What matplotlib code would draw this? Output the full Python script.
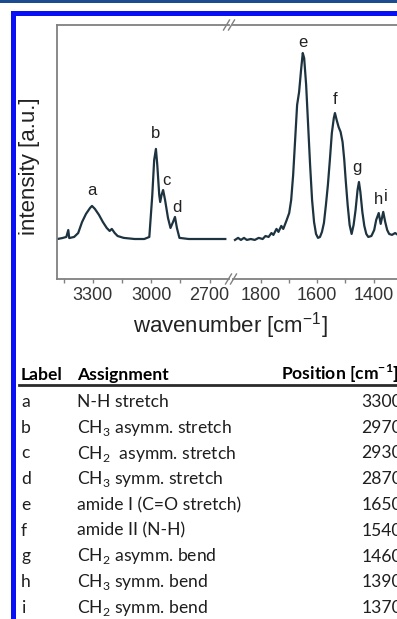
import matplotlib
matplotlib.use("Agg")
import matplotlib.pyplot as plt
from matplotlib.lines import Line2D
from matplotlib.patches import Rectangle
from matplotlib.ticker import FixedLocator

# spectrum, high wavenumber part (cm-1, intensity normalised to amide I)
left_wn = [3483, 3458, 3437, 3427, 3422, 3397, 3376, 3356, 3336, 3315, 3305,
           3290, 3269, 3249, 3229, 3214, 3203, 3188, 3173, 3142, 3086, 3036,
           3010, 2995, 2985, 2976, 2969, 2959, 2954, 2947, 2939, 2929, 2914,
           2901, 2888, 2878, 2868, 2855, 2807, 2705, 2619]
left_int = [0.005, 0.010, 0.016, 0.053, 0.010, 0.016, 0.037, 0.096, 0.139, 0.171, 0.182,
            0.166, 0.134, 0.096, 0.064, 0.048, 0.059, 0.037, 0.021, 0.011, 0.005, 0.005,
            0.016, 0.235, 0.428, 0.487, 0.401, 0.241, 0.203, 0.241, 0.267, 0.214, 0.118,
            0.064, 0.096, 0.123, 0.064, 0.011, 0.005, 0.005, 0.005]

# spectrum, fingerprint part
right_wn = [1891, 1880, 1870, 1859, 1849, 1835, 1821, 1807, 1793, 1783, 1772,
            1762, 1755, 1744, 1737, 1727, 1720, 1709, 1699, 1692, 1685, 1678,
            1671, 1664, 1657, 1651, 1646, 1639, 1632, 1625, 1618, 1611, 1604,
            1597, 1590, 1583, 1576, 1569, 1562, 1555, 1548, 1541, 1537, 1531,
            1524, 1517, 1510, 1504, 1499, 1492, 1485, 1478, 1471, 1464, 1457,
            1452, 1447, 1440, 1433, 1426, 1419, 1408, 1398, 1391, 1382, 1375,
            1366, 1359, 1352, 1345, 1335, 1324, 1314, 1300]
right_int = [0.000, 0.011, 0.000, 0.011, 0.000, 0.005, 0.000, 0.011, 0.005, 0.021, 0.016,
             0.037, 0.027, 0.059, 0.043, 0.075, 0.059, 0.102, 0.144, 0.214, 0.348, 0.535,
             0.722, 0.791, 0.909, 1.000, 0.973, 0.829, 0.615, 0.401, 0.214, 0.096, 0.032,
             0.011, 0.016, 0.043, 0.091, 0.187, 0.294, 0.428, 0.572, 0.652, 0.679, 0.642,
             0.604, 0.578, 0.524, 0.428, 0.321, 0.187, 0.080, 0.032, 0.080, 0.160, 0.267,
             0.310, 0.257, 0.150, 0.075, 0.032, 0.016, 0.021, 0.053, 0.107, 0.144, 0.086,
             0.150, 0.096, 0.053, 0.032, 0.027, 0.037, 0.027, 0.021]

# peak letters and where they sit
peak_labels = ["a", "b", "c", "d", "e", "f", "g", "h", "i"]
peak_wn = [3305, 2980, 2924, 2868, 1650, 1538, 1458, 1384, 1358]
peak_y = [0.262, 0.567, 0.316, 0.176, 1.059, 0.754, 0.385, 0.214, 0.235]

# assignment table
tab_labels = ["a", "b", "c", "d", "e", "f", "g", "h", "i"]
tab_assign = ["N-H stretch", "CH$_3$ asymm. stretch", "CH$_2$  asymm. stretch",
              "CH$_3$ symm. stretch", "amide I (C=O stretch)", "amide II (N-H)",
              "CH$_2$ asymm. bend", "CH$_3$ symm. bend", "CH$_2$ symm. bend"]
tab_pos = [3300, 2970, 2930, 2870, 1650, 1540, 1460, 1390, 1370]

W, H = 397, 619
plt.rcParams["font.family"] = "Liberation Sans"
plt.rcParams["mathtext.fontset"] = "custom"
plt.rcParams["mathtext.rm"] = "Lato"
plt.rcParams["mathtext.bf"] = "Lato:bold"
plt.rcParams["mathtext.sf"] = "Liberation Sans"


def fx(x):
    return x / W


def fy(y):
    return 1 - y / H


fig = plt.figure(figsize=(W / 100, H / 100), dpi=100)

# page decoration: dark strip and blue frame
fig.add_artist(Rectangle((0, fy(2.5)), 1, 2.5 / H, transform=fig.transFigure,
                         color="#1d4b8f", lw=0))
fig.add_artist(Rectangle((fx(11), 0), 5 / W, fy(11), transform=fig.transFigure,
                         color="#0a10f5", lw=0))
fig.add_artist(Rectangle((fx(11), fy(16)), 1, 5 / H, transform=fig.transFigure,
                         color="#0a10f5", lw=0))

ax_top, ax_bot = 25, 279
ax1 = fig.add_axes([fx(57), fy(ax_bot), (229 - 57) / W, (ax_bot - ax_top) / H])
ax2 = fig.add_axes([fx(233), fy(ax_bot), (416 - 233) / W, (ax_bot - ax_top) / H])

line_col = "#1d3340"
spine_col = "#808080"
ylim = (-0.209, 1.15)

ax1.plot(left_wn, left_int, color=line_col, lw=1.6)
ax2.plot(right_wn, right_int, color=line_col, lw=1.6)
ax1.set_xlim(3485, 2600)
ax2.set_xlim(1898, 1250)

for ax in (ax1, ax2):
    ax.set_ylim(*ylim)
    ax.set_yticks([])
    ax.patch.set_alpha(0)
    for s in ax.spines.values():
        s.set_color(spine_col)
        s.set_linewidth(1.3)
    ax.tick_params(axis="x", which="both", direction="out", color=spine_col,
                   labelsize=13, labelcolor="#333333", pad=3)
    ax.tick_params(axis="x", which="major", length=3, width=1)
    ax.tick_params(axis="x", which="minor", length=3, width=1)

ax1.spines["right"].set_visible(False)
ax2.spines["left"].set_visible(False)
ax1.set_xticks([3300, 3000, 2700])
ax1.xaxis.set_minor_locator(FixedLocator([3450, 3150, 2850]))
ax2.set_xticks([1800, 1600, 1400])
ax2.xaxis.set_minor_locator(FixedLocator([1700, 1500, 1300]))

for lab, x, y in zip(peak_labels, peak_wn, peak_y):
    ax = ax1 if x > 2000 else ax2
    ax.text(x, y, lab, ha="center", va="center", fontsize=12, color="#222222")

# axis break marks
for cx, cy in [(229, 25), (231, 279)]:
    for off in (-2.5, 2.5):
        fig.add_artist(Line2D([fx(cx + off - 3), fx(cx + off + 3)],
                              [fy(cy + 5), fy(cy - 5)],
                              transform=fig.transFigure, color=spine_col, lw=1))

fig.text(fx(230), fy(326), r"wavenumber [cm$^{\mathsf{-1}}$]", ha="center", va="center",
         fontsize=16, color="#222222")
fig.text(fx(30), fy(166), "intensity [a.u.]", ha="center", va="center",
         rotation=90, fontsize=16, color="#222222")

# table
tfont = "Lato"
tsize = 12.6
hdr_base = 380
fig.text(fx(21), fy(hdr_base), "Label", family=tfont, weight="bold", fontsize=tsize,
         color="black", va="baseline")
fig.text(fx(77), fy(hdr_base), "Assignment", family=tfont, weight="bold", fontsize=tsize,
         color="black", va="baseline")
fig.text(fx(399), fy(hdr_base), r"Position [cm$^{\mathbf{-1}}$]", family=tfont,
         weight="bold", fontsize=tsize, color="black", va="baseline", ha="right")
fig.add_artist(Line2D([fx(19), 1.0], [fy(385), fy(385)], transform=fig.transFigure,
                      color="#2a2a2a", lw=2))

row_base0, row_step = 407, 25.75
for i, (lab, asg, pos) in enumerate(zip(tab_labels, tab_assign, tab_pos)):
    yb = fy(row_base0 + i * row_step)
    fig.text(fx(21), yb, lab, family=tfont, fontsize=tsize, color="#1e1e1e", va="baseline")
    fig.text(fx(77), yb, asg, family=tfont, fontsize=tsize, color="#1e1e1e", va="baseline")
    fig.text(fx(402), yb, str(pos), family=tfont, fontsize=tsize, color="#1e1e1e",
             va="baseline", ha="right")

fig.savefig("out.png", dpi=100)
